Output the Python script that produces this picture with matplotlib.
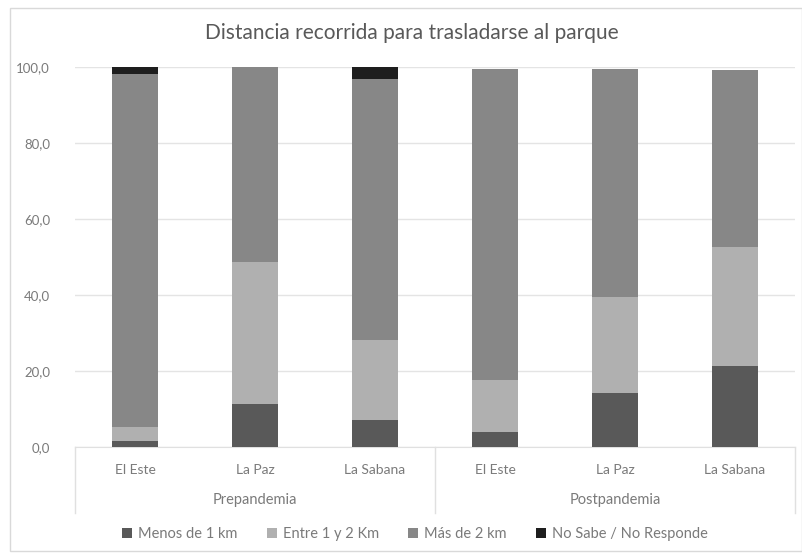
import matplotlib.pyplot as plt
from matplotlib.patches import Rectangle

periods = ["Prepandemia", "Postpandemia"]
parks = ["El Este", "La Paz", "La Sabana"]
series = ["Menos de 1 km", "Entre 1 y 2 Km", "Más de 2 km", "No Sabe / No Responde"]

menos_1km = [1.7, 11.3, 7.1, 4.0, 14.3, 21.4]
entre_1_2km = [3.6, 37.5, 21.1, 13.6, 25.3, 31.2]
mas_2km = [92.9, 51.2, 68.6, 81.8, 60.0, 46.6]
no_sabe = [1.8, 0.0, 3.2, 0.0, 0.0, 0.0]

colors = ["#595959", "#b0b0b0", "#878787", "#1e1e1e"]
text_color = "#7a7a7a"

plt.rcParams["font.family"] = ["Lato", "DejaVu Sans"]

fig = plt.figure(figsize=(8.03, 5.53), dpi=100)
W, H = 803, 553
ax = fig.add_axes([75 / W, (H - 447) / H, 720 / W, 380 / H])

# outer chart frame
fig.patches.append(Rectangle((10 / W, 2 / H), 792 / W, 543 / H,
                             transform=fig.transFigure, fill=False,
                             edgecolor="#d9d9d9", linewidth=1))

x = list(range(len(periods) * len(parks)))
bottom = [0.0] * len(x)
for name, vals, col in zip(series, [menos_1km, entre_1_2km, mas_2km, no_sabe], colors):
    ax.bar(x, vals, width=0.39, bottom=bottom, color=col, label=name, zorder=3)
    bottom = [b + v for b, v in zip(bottom, vals)]

ax.set_xlim(-0.5, len(x) - 0.5)
ax.set_ylim(0, 100)
ax.set_yticks([0, 20, 40, 60, 80, 100])
ax.set_yticklabels([f"{v:.1f}".replace(".", ",") for v in [0, 20, 40, 60, 80, 100]])
ax.tick_params(axis="y", length=0, pad=18, labelsize=9.5, labelcolor=text_color)
ax.grid(axis="y", color="#e4e4e4", linewidth=1, zorder=0)
for s in ["top", "right", "left"]:
    ax.spines[s].set_visible(False)
ax.spines["bottom"].set_color("#e0e0e0")
ax.set_xticks([])

# multi-level category axis
trans = ax.get_xaxis_transform()
for i in x:
    ax.text(i, -23 / 380, parks[i % len(parks)], transform=trans, ha="center",
            va="center", fontsize=10, color=text_color)
for g, p in enumerate(periods):
    ax.text(g * len(parks) + (len(parks) - 1) / 2, -53 / 380, p, transform=trans,
            ha="center", va="center", fontsize=10.5, color=text_color)
for xs in [-0.5, 2.5, 5.5]:
    ax.plot([xs, xs], [0, -66 / 380], transform=trans, color="#e0e0e0",
            linewidth=1, clip_on=False)

fig.text(412 / W, 1 - 33 / H, "Distancia recorrida para trasladarse al parque",
         ha="center", va="center", fontsize=15, color="#595959")

fig.legend(loc="center", bbox_to_anchor=(415 / W, 1 - 534 / H), ncol=4,
           frameon=False, fontsize=10.5, labelcolor=text_color,
           handlelength=0.7, handleheight=0.7, handletextpad=0.4,
           columnspacing=2.0)

fig.savefig("out.png", dpi=100)
